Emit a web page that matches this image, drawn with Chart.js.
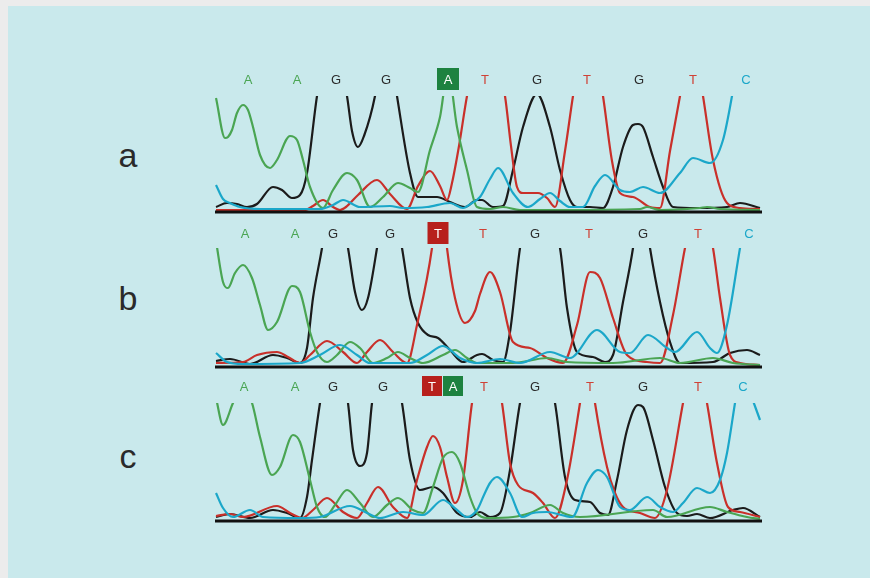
<!DOCTYPE html>
<html>
<head>
<meta charset="utf-8">
<script src="https://cdn.jsdelivr.net/npm/chart.js@4.4.0/dist/chart.umd.min.js"></script>
<style>
  html, body { margin: 0; padding: 0; background: #ececec; }
  #page { position: relative; width: 870px; height: 578px; overflow: hidden; }
  #bg { position: absolute; left: 8px; top: 6px; width: 862px; height: 572px; background: #c9e9ec; }
  canvas { position: absolute; }
  .lbl { position: absolute; width: 40px; text-align: center; font: 34px "Liberation Sans", Arial, sans-serif; color: #2a2a2a; line-height: 34px; }
</style>
</head>
<body>
<div id="page">
  <div id="bg"></div>
  <div class="lbl" style="left:108px; top:138px;">a</div>
  <div class="lbl" style="left:108px; top:281px;">b</div>
  <div class="lbl" style="left:108px; top:439px;">c</div>
  <canvas id="panelA" width="575" height="160" style="left:200px; top:60px;"></canvas>
  <canvas id="panelB" width="575" height="160" style="left:200px; top:215px;"></canvas>
  <canvas id="panelC" width="575" height="162" style="left:200px; top:368px;"></canvas>
</div>

<script>
// ------------------------------
// BASE CALLS (letter, scan position)
// ------------------------------
const callsA = ["A", "A", "G", "G", "A", "T", "G", "T", "G", "T", "C"];
const callPosA = [248, 297, 336, 386, 448, 485, 537, 587, 639, 693, 746];
const boxedA = [false, false, false, false, true, false, false, false, false, false, false];

const callsB = ["A", "A", "G", "G", "T", "T", "G", "T", "G", "T", "C"];
const callPosB = [245, 295, 333, 390, 438, 483, 535, 589, 643, 698, 749];
const boxedB = [false, false, false, false, true, false, false, false, false, false, false];

const callsC = ["A", "A", "G", "G", "T", "A", "T", "G", "T", "G", "T", "C"];
const callPosC = [244, 295, 333, 383, 432, 453, 484, 535, 590, 643, 698, 743];
const boxedC = [false, false, false, false, true, true, false, false, false, false, false, false];

// ------------------------------
// TRACES [scan position, intensity]
// ------------------------------
const traceA_A = [[216,113],[225,73],[228,74],[232,81],[237,98],[243,106],[248,101],[253,84],[260,56],[270,43],[277,51],[290,75],[297,71],[303,51],[310,24],[323,3],[333,21],[347,38],[357,31],[370,4],[383,14],[398,28],[410,23],[418,19],[430,61],[440,94],[448,140],[457,84],[467,41],[477,4],[490,2],[503,4],[520,1],[560,1],[640,2],[647,4],[660,1],[700,3],[707,4],[720,2],[760,1]];
const traceA_G = [[216,4],[227,8],[237,7],[247,4],[257,7],[273,24],[282,21],[292,13],[300,16],[307,38],[317,115],[331,190],[347,115],[352,80],[358,64],[364,75],[375,115],[386,185],[397,115],[410,38],[418,14],[437,14],[450,9],[465,4],[477,11],[482,11],[493,4],[503,5],[513,41],[523,84],[537,117],[550,84],[560,41],[570,11],[577,4],[590,4],[603,3],[613,24],[623,64],[633,86],[638,87],[643,84],[653,54],[663,24],[673,4],[697,3],[727,4],[740,8],[760,3]];
const traceA_T = [[216,1],[260,1],[305,1],[313,5],[323,11],[333,4],[340,1],[346,4],[358,16],[377,31],[390,17],[407,2],[418,25],[430,40],[440,25],[447,11],[452,28],[459,65],[467,115],[486,200],[505,115],[511,65],[517,24],[523,18],[538,18],[547,13],[555,4],[565,60],[573,115],[588,200],[603,115],[612,50],[620,18],[633,14],[650,4],[660,3],[670,60],[680,115],[692,180],[703,115],[713,51],[727,8],[740,3],[760,2]];
const traceA_C = [[216,26],[223,12],[230,8],[240,4],[260,2],[320,2],[333,6],[343,11],[360,4],[390,5],[403,3],[427,4],[450,8],[463,3],[472,8],[480,14],[490,32],[498,43],[513,18],[528,4],[540,12],[550,18],[560,10],[570,4],[583,4],[595,25],[605,36],[620,21],[630,19],[643,24],[660,18],[680,38],[693,53],[710,48],[723,71],[732,115],[736,140]];

const traceB_A = [[216,125],[223,84],[228,78],[235,93],[243,101],[252,88],[260,61],[268,36],[277,44],[292,80],[300,74],[310,34],[317,14],[327,4],[337,11],[350,24],[360,18],[373,3],[387,8],[398,14],[410,8],[423,3],[443,11],[455,16],[467,8],[477,3],[513,3],[547,8],[567,4],[613,3],[660,8],[680,3],[713,8],[733,3],[760,1]];
const traceB_G = [[216,5],[230,7],[250,2],[273,11],[287,8],[300,3],[307,18],[313,68],[322,118],[333,190],[348,118],[355,74],[362,56],[368,68],[377,118],[388,190],[402,118],[410,68],[418,43],[428,31],[438,28],[450,16],[463,4],[477,11],[482,12],[493,6],[503,4],[510,34],[520,118],[535,190],[560,118],[567,58],[577,14],[593,9],[605,4],[613,11],[623,64],[633,118],[641,180],[650,118],[660,64],[670,24],[680,3],[713,4],[730,13],[747,16],[760,11]];
const traceB_T = [[216,3],[243,4],[257,11],[277,14],[288,9],[300,3],[310,11],[327,25],[343,14],[357,3],[367,14],[380,26],[393,14],[407,3],[417,41],[432,118],[440,190],[447,118],[455,68],[465,43],[475,55],[480,72],[490,94],[500,74],[513,24],[530,18],[547,8],[563,3],[577,41],[590,94],[600,88],[613,48],[627,11],[647,4],[660,3],[673,51],[685,118],[699,180],[713,118],[720,68],[730,11],[740,3],[760,1]];
const traceB_C = [[216,13],[227,4],[243,2],[300,3],[320,11],[340,21],[357,11],[370,3],[410,3],[427,11],[443,20],[460,8],[477,3],[500,7],[520,3],[550,14],[570,8],[597,36],[620,14],[630,13],[648,31],[667,18],[675,14],[697,34],[710,18],[717,13],[727,41],[740,118],[743,135]];

const traceC_A = [[216,122],[223,95],[233,117],[242,135],[252,117],[260,83],[272,45],[280,53],[293,85],[300,78],[310,40],[317,13],[325,3],[335,15],[347,30],[360,17],[373,3],[387,15],[398,22],[413,10],[423,7],[433,33],[443,62],[452,68],[460,57],[470,23],[477,7],[487,2],[513,3],[530,7],[550,15],[563,7],[580,3],[653,10],[667,3],[710,13],[727,8],[747,3],[760,1]];
const traceC_G = [[216,3],[230,6],[250,2],[273,10],[287,7],[300,2],[307,23],[312,60],[320,117],[333,190],[348,117],[353,70],[360,54],[367,67],[372,117],[386,190],[402,117],[410,60],[420,30],[433,33],[443,27],[457,7],[470,3],[480,8],[490,3],[500,7],[510,50],[520,117],[537,190],[555,117],[565,43],[575,20],[590,18],[600,7],[608,5],[617,40],[627,90],[638,115],[643,113],[653,80],[665,33],[677,7],[687,4],[697,6],[710,2],[733,10],[743,12],[760,3]];
const traceC_T = [[216,4],[230,6],[243,3],[277,14],[290,7],[302,2],[313,10],[327,22],[343,8],[357,2],[367,17],[378,33],[393,13],[407,2],[417,40],[427,73],[433,84],[440,73],[447,43],[455,17],[463,40],[472,117],[487,190],[502,117],[510,57],[518,35],[533,27],[543,17],[555,2],[567,40],[580,117],[588,170],[595,117],[607,53],[615,27],[623,13],[640,7],[655,2],[667,30],[683,117],[695,180],[707,117],[717,57],[728,13],[740,8],[760,3]];
const traceC_C = [[216,27],[223,12],[233,3],[250,10],[263,3],[300,2],[320,3],[350,14],[367,7],[380,2],[403,8],[423,5],[443,20],[457,10],[467,3],[477,10],[484,25],[490,37],[497,43],[510,27],[522,3],[533,7],[547,8],[572,3],[587,37],[598,50],[607,43],[620,13],[630,10],[647,23],[660,13],[673,8],[683,17],[697,32],[710,27],[720,40],[727,67],[735,117],[738,135],[745,null],[752,122],[760,100]];

// ------------------------------
// COLOURS
// ------------------------------
const baseColor = { A: "#4aa553", G: "#1b1b1b", T: "#c9302a", C: "#1ba7c9" };
const letterColor = { A: "#4aa553", G: "#2a2a2a", T: "#cf4236", C: "#1ba7c9" };
const boxColor = { A: "#1d8240", T: "#b7201c" };

// letters above the traces + the black baseline
const overlay = {
  id: "overlay",
  afterDatasetsDraw(chart, args, opts) {
    const { ctx, chartArea, scales } = chart;
    ctx.save();
    ctx.strokeStyle = "#111";
    ctx.lineWidth = 3;
    ctx.beginPath();
    ctx.moveTo(chartArea.left, chartArea.bottom + 1);
    ctx.lineTo(chartArea.right, chartArea.bottom + 1);
    ctx.stroke();

    ctx.font = '13px "Liberation Sans", Arial, sans-serif';
    ctx.textAlign = "center";
    ctx.textBaseline = "middle";
    const y = chartArea.top - opts.gap;
    opts.calls.forEach((b, i) => {
      const x = scales.x.getPixelForValue(opts.pos[i]);
      if (opts.boxed[i]) {
        ctx.fillStyle = boxColor[b];
        ctx.fillRect(x - opts.boxW / 2, y - opts.boxH / 2, opts.boxW, opts.boxH);
        ctx.fillStyle = "#ffffff";
      } else {
        ctx.fillStyle = letterColor[b];
      }
      ctx.fillText(b, x, y + 1);
    });
    ctx.restore();
  }
};

function trace(points, base) {
  return {
    data: points.map(p => ({ x: p[0], y: p[1] })),
    borderColor: baseColor[base],
    borderWidth: 2.2,
    pointRadius: 0,
    fill: false,
    cubicInterpolationMode: "monotone",
    spanGaps: false
  };
}

function buildPanel(id, traces, yMax, pad, letters) {
  new Chart(document.getElementById(id), {
    type: "line",
    data: {
      datasets: [
        trace(traces.C, "C"),
        trace(traces.A, "A"),
        trace(traces.T, "T"),
        trace(traces.G, "G")
      ]
    },
    options: {
      responsive: false,
      animation: false,
      layout: { padding: pad },
      plugins: {
        legend: { display: false },
        tooltip: { enabled: false },
        overlay: letters
      },
      scales: {
        x: { type: "linear", min: 215, max: 762, display: false },
        y: { min: 0, max: yMax, display: false }
      }
    },
    plugins: [overlay]
  });
}

buildPanel("panelA",
  { A: traceA_A, G: traceA_G, T: traceA_T, C: traceA_C },
  115, { left: 15, right: 13, top: 36, bottom: 9 },
  { calls: callsA, pos: callPosA, boxed: boxedA, gap: 17, boxW: 22, boxH: 22 });

buildPanel("panelB",
  { A: traceB_A, G: traceB_G, T: traceB_T, C: traceB_C },
  118, { left: 15, right: 13, top: 33, bottom: 9 },
  { calls: callsB, pos: callPosB, boxed: boxedB, gap: 15, boxW: 21, boxH: 22 });

buildPanel("panelC",
  { A: traceC_A, G: traceC_G, T: traceC_T, C: traceC_C },
  117, { left: 15, right: 13, top: 35, bottom: 10 },
  { calls: callsC, pos: callPosC, boxed: boxedC, gap: 17, boxW: 20, boxH: 20 });
</script>
</body>
</html>
